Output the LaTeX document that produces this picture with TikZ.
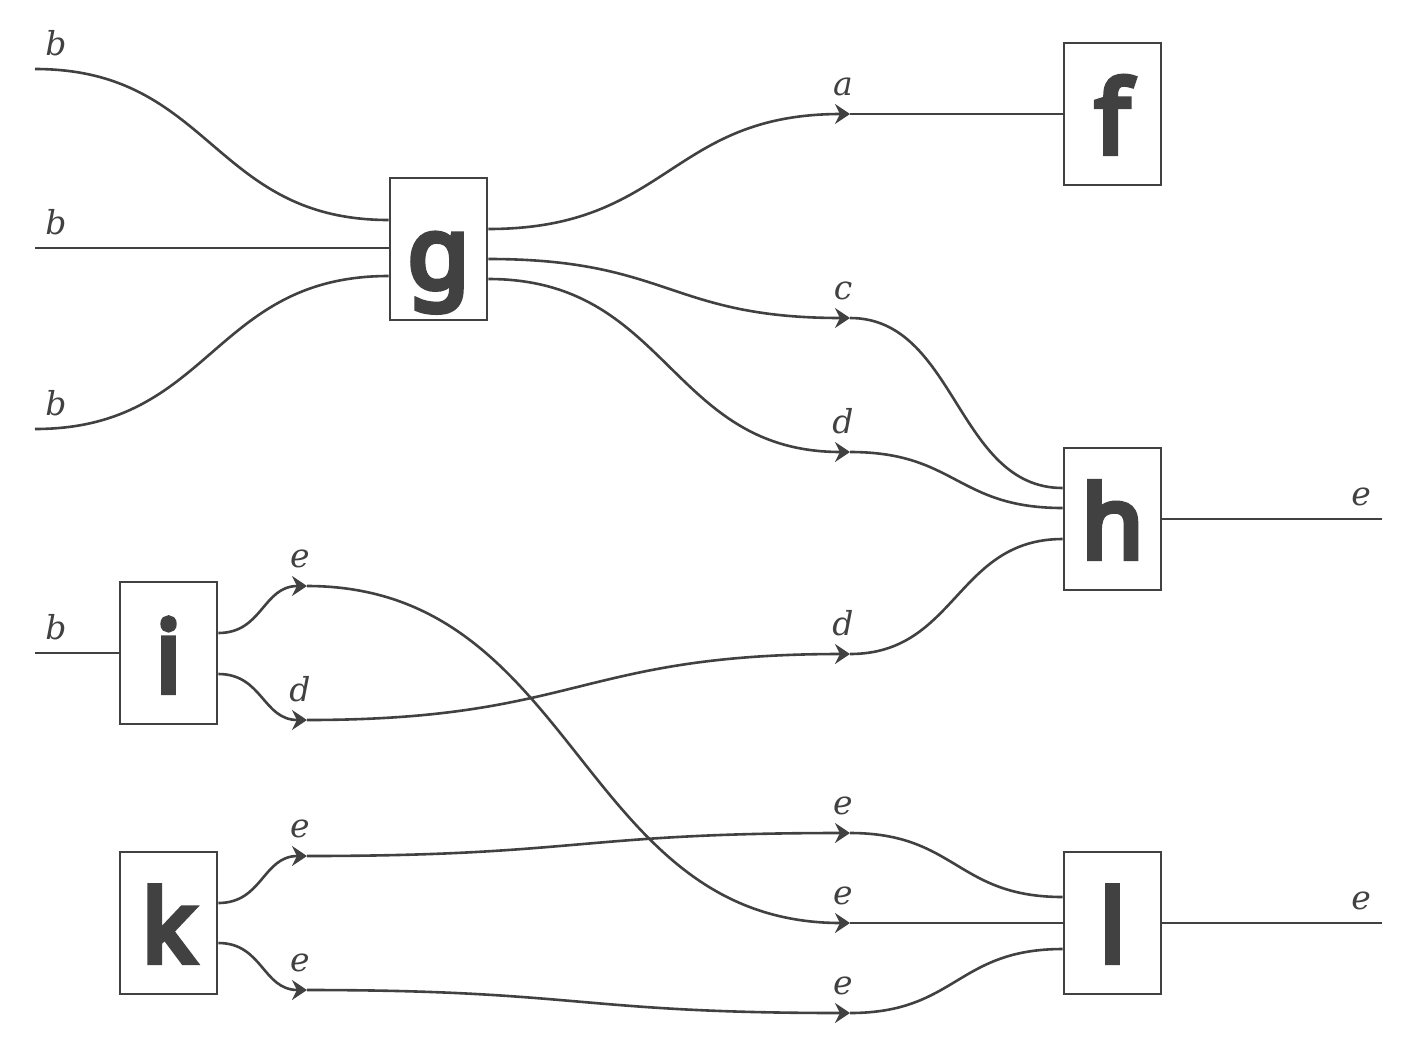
\documentclass[tikz,border=0pt]{standalone}
\usepackage{fontspec}
\usetikzlibrary{arrows.meta,calc}
\newfontfamily\boxfont{Noto Sans}[FakeBold=6]
\newfontfamily\lblfont{DejaVu Serif}
\definecolor{ink}{HTML}{414141}
\begin{document}
\begin{tikzpicture}[x=1pt,y=-1pt,
  box/.style={draw=ink, line width=2.7pt, fill=white, minimum width=97pt, minimum height=142pt,
    inner sep=0pt, font=\boxfont\bfseries\fontsize{100pt}{100pt}\selectfont, text=ink,
    text height=78pt, text depth=0pt},
  wire/.style={draw=ink, line width=2.6pt},
  arr/.style={wire, -{Stealth[length=15pt,width=20pt,inset=5pt]}},
  lbl/.style={font=\lblfont\itshape\fontsize{33pt}{33pt}\selectfont, text=ink, anchor=base, inner sep=0pt},
  sc/.style={to path={let \p1=(\tikztostart), \p2=(\tikztotarget), \p3=($(\p1)!0.5!(\p2)$) in
    .. controls (\x3,\y1) and (\x3,\y2) .. (\tikztotarget) \tikztonodes}}]
\useasboundingbox (0,0) rectangle (1421,1050);
% boxes
\node[box] (g) at (438.5,249) {g};
\node[box] (f) at (1112.5,114) {f};
\node[box] (h) at (1112.5,519) {h};
\node[box] (i) at (168.5,653) {i};
\node[box] (k) at (168.5,923) {k};
\node[box] (l) at (1112.5,923) {l};
% coordinates
\coordinate (b1) at (35,69);
\coordinate (b2) at (35,248);
\coordinate (b3) at (35,429);
\coordinate (b4) at (35,653);
\coordinate (ea) at (850,114);
\coordinate (ec) at (850,318);
\coordinate (ed) at (850,452);
\coordinate (ed2) at (850,654);
\coordinate (ie) at (307,586);
\coordinate (id) at (307,720);
\coordinate (ke1) at (307,856);
\coordinate (ke2) at (307,990);
\coordinate (le1) at (850,833);
\coordinate (le2) at (850,923);
\coordinate (le3) at (850,1013);
\coordinate (he) at (1382,519);
\coordinate (lo) at (1382,923);
% wires
\draw[wire] (b1) to[sc] ($(g.west)+(0,-29)$);
\draw[wire] (b2) to[sc] ($(g.west)+(0,-1)$);
\draw[wire] (b3) to[sc] ($(g.west)+(0,27)$);
\draw[arr] ($(g.east)+(0,-20)$) to[sc] (ea);
\draw[wire] (ea) -- (f.west);
\draw[arr] ($(g.east)+(0,10)$) to[sc] (ec);
\draw[wire] (ec) to[sc] ($(h.west)+(0,-31)$);
\draw[arr] ($(g.east)+(0,30)$) to[sc] (ed);
\draw[wire] (ed) to[sc] ($(h.west)+(0,-11)$);
\draw[wire] (b4) -- (i.west);
\draw[arr] ($(i.east)+(0,-20)$) to[sc] (ie);
\draw[arr] (ie) to[sc] (le2);
\draw[wire] (le2) -- (l.west);
\draw[arr] ($(i.east)+(0,21)$) to[sc] (id);
\draw[arr] (id) to[sc] (ed2);
\draw[wire] (ed2) to[sc] ($(h.west)+(0,20)$);
\draw[wire] (h.east) -- (he);
\draw[arr] ($(k.east)+(0,-20)$) to[sc] (ke1);
\draw[arr] (ke1) to[sc] (le1);
\draw[wire] (le1) to[sc] ($(l.west)+(0,-26)$);
\draw[arr] ($(k.east)+(0,20)$) to[sc] (ke2);
\draw[arr] (ke2) to[sc] (le3);
\draw[wire] (le3) to[sc] ($(l.west)+(0,26)$);
\draw[wire] (l.east) -- (lo);
% labels
\node[lbl] (lb1) at (56,55) {b};
\node[lbl] (lb2) at (56,234) {b};
\node[lbl] (lb3) at (56,415) {b};
\node[lbl] (lb4) at (56,639) {b};
\node[lbl] (la) at (843,95) {a};
\node[lbl] (lc) at (843,299) {c};
\node[lbl] (ld) at (843,433) {d};
\node[lbl] (ld2) at (843,635) {d};
\node[lbl] (lie) at (300,567) {e};
\node[lbl] (lid) at (300,701) {d};
\node[lbl] (lke1) at (300,837) {e};
\node[lbl] (lke2) at (300,971) {e};
\node[lbl] (lle1) at (843,814) {e};
\node[lbl] (lle2) at (843,904) {e};
\node[lbl] (lle3) at (843,994) {e};
\node[lbl] (lhe) at (1361,505) {e};
\node[lbl] (llo) at (1361,909) {e};
\end{tikzpicture}
\end{document}
